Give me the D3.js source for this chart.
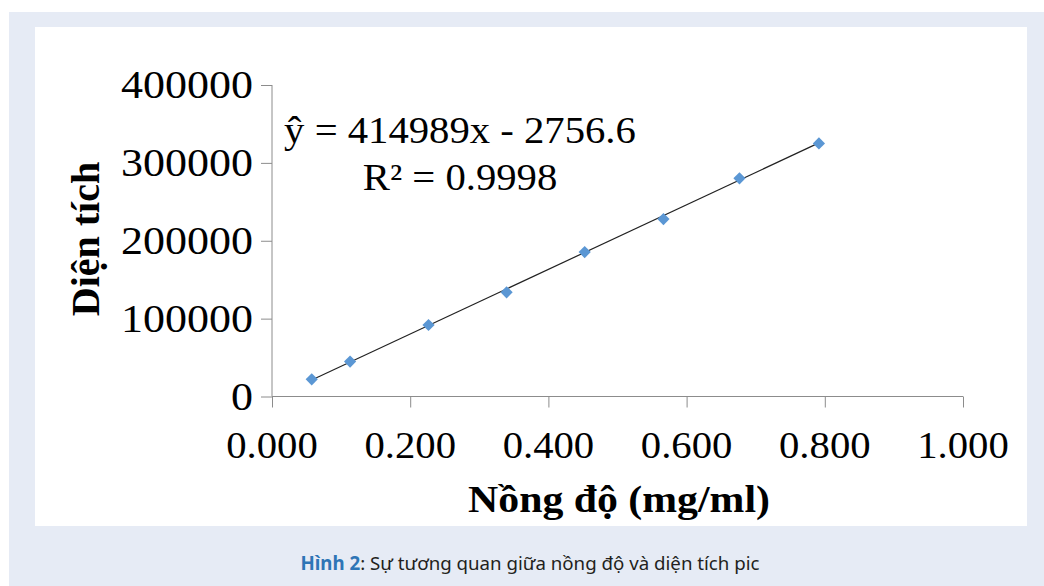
<!DOCTYPE html>
<html>
<head>
<meta charset="utf-8">
<script src="https://cdn.jsdelivr.net/npm/d3@7"></script>
<style>
  body { margin: 0; background: #fff; }
  .serif { font-family: "Liberation Serif", "Times New Roman", serif; }
</style>
</head>
<body>
<script>
// calibration data
const concentrations = [0.0575, 0.113, 0.2265, 0.3395, 0.4525, 0.5665, 0.6765, 0.7915];
const areas = [22000, 44900, 91800, 133800, 185500, 227900, 280100, 325000];
const xTicks = [0, 0.2, 0.4, 0.6, 0.8, 1.0];
const yTicks = [0, 100000, 200000, 300000, 400000];
const slope = 414989, intercept = -2756.6;

const W = 1044, H = 586;
const svg = d3.select('body').append('svg')
  .attr('width', W)
  .attr('height', H);

// background panels
svg.append('rect').attr('x', 9).attr('y', 12).attr('width', W - 9).attr('height', H - 12).attr('fill', '#e6ebf5');
svg.append('rect').attr('x', 35).attr('y', 27).attr('width', 992).attr('height', 499).attr('fill', '#fff');

const x = d3.scaleLinear().domain([0, 1]).range([272, 963]);
const y = d3.scaleLinear().domain([0, 400000]).range([396.5, 85]);

const sx = 1.1;

// axes
const gx = svg.append('g').attr('transform', `translate(0,${y(0)})`)
  .call(d3.axisBottom(x).tickValues(xTicks).tickSize(11).tickFormat(() => ''));
const gy = svg.append('g').attr('transform', `translate(${x(0)},0)`)
  .call(d3.axisLeft(y).tickValues(yTicks).tickSize(11).tickFormat(() => ''));
[gx, gy].forEach(g => {
  g.selectAll('path, line').attr('stroke', '#8c8c8c').attr('stroke-width', 1);
  g.select('.domain').attr('d', g === gx ? `M${x(0)},0H${x(1)}` : `M0,${y(0)}V${y(400000)}`);
});

// tick labels (stretched a little horizontally like the original)
svg.selectAll('.xlab').data(xTicks).enter().append('text')
  .attr('class', 'serif')
  .attr('transform', d => `translate(${x(d)},458) scale(${sx},1)`)
  .attr('text-anchor', 'middle')
  .style('font-size', '37px').attr('fill', '#000')
  .text(d => d3.format('.3f')(d));

svg.selectAll('.ylab').data(yTicks).enter().append('text')
  .attr('class', 'serif')
  .attr('transform', d => `translate(253,${y(d) + 13}) scale(${sx},1)`)
  .attr('text-anchor', 'end')
  .style('font-size', '40px').attr('fill', '#000')
  .text(d => d);

// axis titles
svg.append('text')
  .attr('class', 'serif')
  .attr('transform', `translate(619,512) scale(${sx},1)`)
  .attr('text-anchor', 'middle')
  .style('font-size', '38px').style('font-weight', 'bold')
  .text('Nồng độ (mg/ml)');

svg.append('text')
  .attr('class', 'serif')
  .attr('transform', 'translate(99,239) rotate(-90)')
  .attr('text-anchor', 'middle')
  .style('font-size', '40px').style('font-weight', 'bold')
  .text('Diện tích');

// trendline
const x0 = d3.min(concentrations), x1 = d3.max(concentrations);
svg.append('line')
  .attr('x1', x(x0)).attr('y1', y(slope * x0 + intercept))
  .attr('x2', x(x1)).attr('y2', y(slope * x1 + intercept))
  .attr('stroke', '#222').attr('stroke-width', 1.2);

// diamond markers
const pts = concentrations.map((c, i) => [c, areas[i]]);
svg.selectAll('.pt').data(pts).enter().append('path')
  .attr('d', d3.symbol(d3.symbolDiamond2, 95))
  .attr('transform', d => `translate(${x(d[0])},${y(d[1])})`)
  .attr('fill', '#5b97d4');

// equation
const eqLines = ['ŷ = 414989x - 2756.6', 'R² = 0.9998'];
svg.selectAll('.eq').data(eqLines).enter().append('text')
  .attr('class', 'serif')
  .attr('transform', (d, i) => `translate(460,${143 + i * 47}) scale(${sx},1)`)
  .attr('text-anchor', 'middle')
  .style('font-size', '37px')
  .text(d => d);

// caption
const cap = svg.append('text')
  .attr('x', 530).attr('y', 570)
  .attr('text-anchor', 'middle')
  .style('font-family', '"Noto Sans", "Open Sans", sans-serif').style('font-size', '18.7px');
cap.append('tspan').attr('fill', '#2e75b6').style('font-weight', 'bold').text('Hình 2');
cap.append('tspan').attr('fill', '#231f20').text(': Sự tương quan giữa nồng độ và diện tích pic');
</script>
</body>
</html>
